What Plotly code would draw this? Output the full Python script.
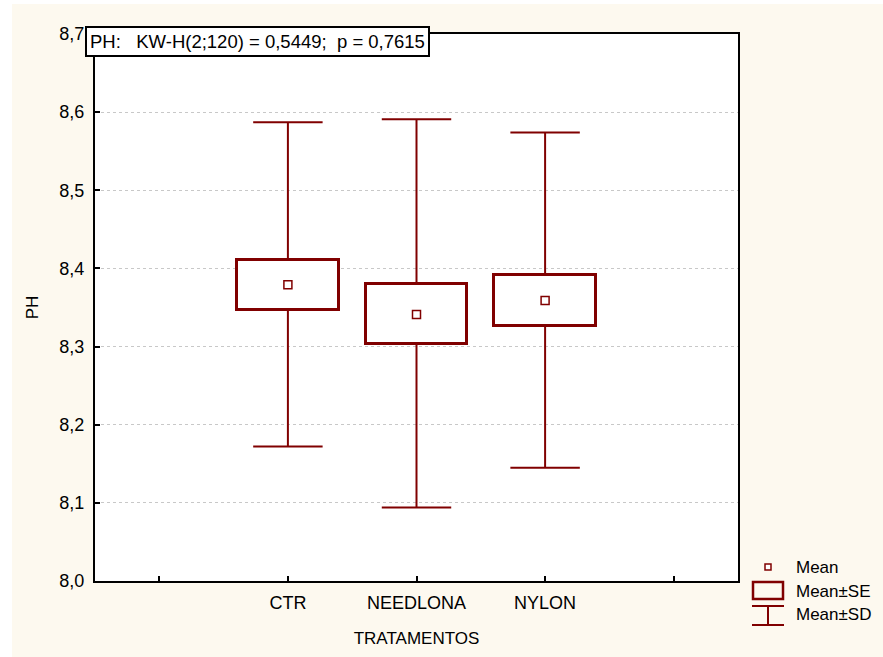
import plotly.graph_objects as go

categories = ["CTR", "NEEDLONA", "NYLON"]
mean = [8.379, 8.341, 8.359]
se_low = [8.347, 8.303, 8.326]
se_high = [8.411, 8.380, 8.392]
sd_low = [8.172, 8.094, 8.145]
sd_high = [8.587, 8.591, 8.574]
y_ticks = [8.0, 8.1, 8.2, 8.3, 8.4, 8.5, 8.6, 8.7]
stat_text = "PH:&nbsp;&nbsp; KW-H(2;120) = 0,5449;&nbsp; p = 0,7615"

RED = "#800000"
CREAM = "#FDF9EF"
FONT = "Liberation Sans, Arial, sans-serif"
FS = 18
FS_ANN = 18.5
FS_LEG = 17

pos = list(range(len(categories)))

W, H = 883, 657
ML, MR, MT, MB = 95, 145, 34, 76
PW, PH = W - ML - MR, H - MT - MB

def px_x(x):
    return (x - ML) / PW

def px_y(y):
    return (H - MB - y) / PH

fig = go.Figure()

# whiskers (SD) vertical segments
wx, wy = [], []
for p, lo, slo, shi, hi in zip(pos, sd_low, se_low, se_high, sd_high):
    wx += [p, p, None, p, p, None]
    wy += [lo, slo, None, shi, hi, None]
cap = 0.27
for p, lo, hi in zip(pos, sd_low, sd_high):
    wx += [p - cap, p + cap, None, p - cap, p + cap, None]
    wy += [lo, lo, None, hi, hi, None]
fig.add_trace(go.Scatter(x=wx, y=wy, mode="lines", line=dict(color=RED, width=2),
                         hoverinfo="skip", showlegend=False))

# SE boxes
fig.add_trace(go.Bar(x=pos, y=[h - l for h, l in zip(se_high, se_low)], base=se_low,
                     width=0.79, marker=dict(color="white", line=dict(color=RED, width=3)),
                     showlegend=False))

# means
fig.add_trace(go.Scatter(x=pos, y=mean, mode="markers",
                         marker=dict(symbol="square-open", size=8, color=RED, line=dict(width=1.5)),
                         showlegend=False))

shapes = []
# white strips at top/left of page
shapes.append(dict(type="rect", xref="paper", yref="paper", x0=px_x(0), x1=px_x(12), y0=px_y(H), y1=px_y(0),
                   fillcolor="white", line=dict(width=0), layer="below"))
shapes.append(dict(type="rect", xref="paper", yref="paper", x0=px_x(0), x1=px_x(W), y0=px_y(4), y1=px_y(0),
                   fillcolor="white", line=dict(width=0), layer="below"))

# legend symbols
shapes.append(dict(type="rect", xref="paper", yref="paper", x0=px_x(765), x1=px_x(771), y0=px_y(570), y1=px_y(564),
                   line=dict(color=RED, width=1.5), fillcolor="white"))
shapes.append(dict(type="rect", xref="paper", yref="paper", x0=px_x(753), x1=px_x(783), y0=px_y(599), y1=px_y(582),
                   line=dict(color=RED, width=2.5), fillcolor=CREAM))
shapes.append(dict(type="line", xref="paper", yref="paper", x0=px_x(752), x1=px_x(784), y0=px_y(606), y1=px_y(606),
                   line=dict(color=RED, width=2)))
shapes.append(dict(type="line", xref="paper", yref="paper", x0=px_x(752), x1=px_x(784), y0=px_y(625), y1=px_y(625),
                   line=dict(color=RED, width=2)))
shapes.append(dict(type="line", xref="paper", yref="paper", x0=px_x(768), x1=px_x(768), y0=px_y(606), y1=px_y(625),
                   line=dict(color=RED, width=2)))

annotations = [
    dict(text=stat_text, xref="paper", yref="paper", x=px_x(85), y=px_y(26), xanchor="left", yanchor="top",
         showarrow=False, font=dict(family=FONT, size=FS_ANN, color="black"), bgcolor="white",
         bordercolor="black", borderwidth=2, borderpad=3),
]
for label, yy in [("Mean", 567), ("Mean±SE", 591), ("Mean±SD", 614)]:
    annotations.append(dict(text=label, xref="paper", yref="paper", x=px_x(794), y=px_y(yy),
                            xanchor="left", yanchor="middle", showarrow=False,
                            font=dict(family=FONT, size=FS_LEG, color="black")))

fig.update_layout(
    width=W, height=H,
    margin=dict(l=ML, r=MR, t=MT, b=MB, pad=0),
    paper_bgcolor=CREAM, plot_bgcolor="white",
    separators=",.",
    font=dict(family=FONT, size=FS, color="black"),
    shapes=shapes, annotations=annotations,
    showlegend=False, bargap=0,
    xaxis=dict(range=[-1.5, 3.5], tickvals=[-1, 0, 1, 2, 3], ticktext=[""] + categories + [""],
               ticks="inside", ticklen=5, tickwidth=1.5, tickcolor="black",
               showline=True, linecolor="black", linewidth=2, mirror=True,
               showgrid=False, zeroline=False, fixedrange=True, ticklabelstandoff=4,
               title=dict(text="TRATAMENTOS", font=dict(size=FS_LEG), standoff=21)),
    yaxis=dict(range=[8.0, 8.7], tickvals=y_ticks, tickformat=".1f",
               ticks="inside", ticklen=5, tickwidth=1.5, tickcolor="black",
               showline=True, linecolor="black", linewidth=2, mirror=True,
               showgrid=True, gridcolor="#C8C8C8", griddash="dot", gridwidth=1,
               zeroline=False, fixedrange=True, ticklabelstandoff=5,
               title=dict(text="PH", font=dict(size=FS_LEG), standoff=16)),
)

fig.write_html("out.html")
